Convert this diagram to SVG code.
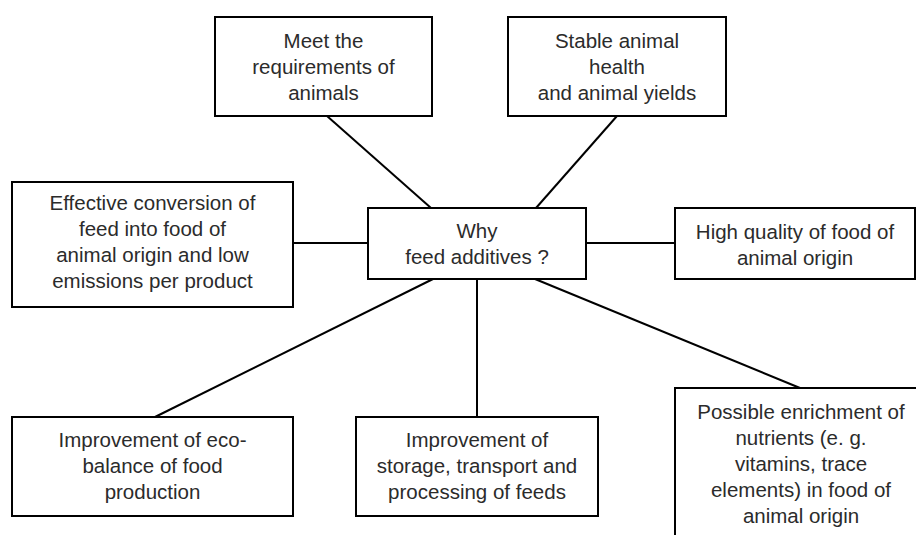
<svg xmlns="http://www.w3.org/2000/svg" width="916" height="535" viewBox="0 0 916 535">
  <style>
    .box { fill: #ffffff; stroke: #000000; stroke-width: 2; }
    .conn { stroke: #000000; stroke-width: 2; fill: none; }
    text { font-family: "Liberation Sans", Arial, sans-serif; font-size: 20.5px; fill: #2b2b2b; text-anchor: middle; }
  </style>
  <rect width="916" height="535" fill="#ffffff"/>
  <g id="connectors">
    <line class="conn" x1="327" y1="116" x2="431" y2="208"/>
    <line class="conn" x1="617" y1="116" x2="536" y2="208"/>
    <line class="conn" x1="293" y1="243" x2="368" y2="243"/>
    <line class="conn" x1="586" y1="243" x2="675" y2="243"/>
    <line class="conn" x1="433" y1="279" x2="155" y2="417"/>
    <line class="conn" x1="477" y1="279" x2="477" y2="417"/>
    <line class="conn" x1="535" y1="279" x2="800" y2="388"/>
  </g>
  <g id="center">
    <rect class="box" x="368" y="208" width="218" height="71"/>
    <text x="477" y="238">Why</text>
    <text x="477" y="264">feed additives ?</text>
  </g>
  <g id="requirements">
    <rect class="box" x="215" y="17" width="217" height="99"/>
    <text x="323.5" y="48">Meet the</text>
    <text x="323.5" y="74">requirements of</text>
    <text x="323.5" y="100">animals</text>
  </g>
  <g id="health">
    <rect class="box" x="508" y="17" width="218" height="99"/>
    <text x="617" y="48">Stable animal</text>
    <text x="617" y="74">health</text>
    <text x="617" y="100">and animal yields</text>
  </g>
  <g id="conversion">
    <rect class="box" x="12" y="182" width="281" height="125"/>
    <text x="152.5" y="210">Effective conversion of</text>
    <text x="152.5" y="236">feed into food of</text>
    <text x="152.5" y="262">animal origin and low</text>
    <text x="152.5" y="288">emissions per product</text>
  </g>
  <g id="quality">
    <rect class="box" x="675" y="208" width="240" height="71"/>
    <text x="795" y="239">High quality of food of</text>
    <text x="795" y="265">animal origin</text>
  </g>
  <g id="ecobalance">
    <rect class="box" x="12" y="417" width="281" height="99"/>
    <text x="152.5" y="447">Improvement of eco-</text>
    <text x="152.5" y="473">balance of food</text>
    <text x="152.5" y="499">production</text>
  </g>
  <g id="storage">
    <rect class="box" x="356" y="417" width="242" height="99"/>
    <text x="477" y="447">Improvement of</text>
    <text x="477" y="473">storage, transport and</text>
    <text x="477" y="499">processing of feeds</text>
  </g>
  <g id="enrichment">
    <rect class="box" x="675" y="388" width="260" height="170"/>
    <text x="801" y="419">Possible enrichment of</text>
    <text x="801" y="445">nutrients (e. g.</text>
    <text x="801" y="471">vitamins, trace</text>
    <text x="801" y="497">elements) in food of</text>
    <text x="801" y="523">animal origin</text>
  </g>
</svg>
